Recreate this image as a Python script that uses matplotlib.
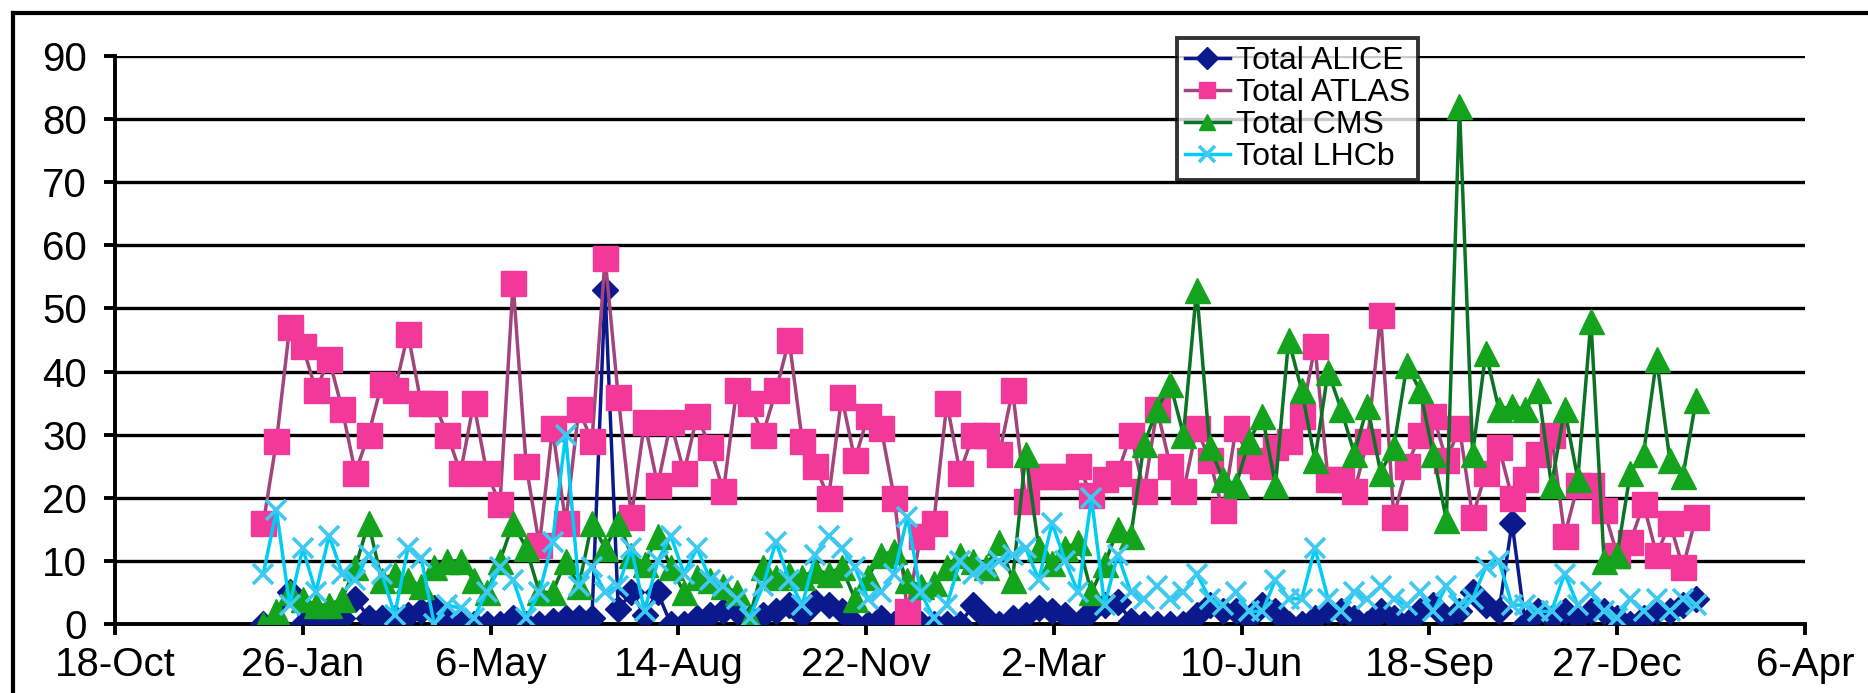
import datetime as dt

import matplotlib
matplotlib.use("Agg")
import matplotlib.pyplot as plt
from matplotlib.lines import Line2D

plt.rcParams['font.family'] = ['Liberation Sans', 'DejaVu Sans']

# weekly reports, first one on 5 Jan 2009
start = dt.date(2009, 1, 5)
n_weeks = 110
weeks = [start + dt.timedelta(days=7 * i) for i in range(n_weeks)]

alice = [0, 0, 5, 0, 0, 1, 1, 4, 1, 1, 1, 1.5, 2, 2.5, 1, 0, 0, 0, 0, 1,
         0, 0, 0.5, 1, 1, 1, 53, 2.3, 5, 1.5, 5, 0, 0, 1, 1.5, 2, 2, 1, 1.5, 2,
         3, 1.5, 3.5, 3, 2, 0, 0, 1, 0, 0, 0, 0, 0, 0, 3, 1, 0, 1, 1.5, 2.5,
         2, 1.5, 0, 2, 3, 3.5, 0.5, 0, 0, 0, 0, 1.5, 3, 2, 2, 1, 3, 2, 0, 0,
         1, 2, 2, 1, 0, 2, 1, 0, 2, 3, 1, 2, 5, 3, 2, 16, 0, 2, 1, 2,
         1, 2, 2, 1, 0, 1, 2, 2, 3, 4]
atlas = [16, 29, 47, 44, 37, 42, 34, 24, 30, 38, 37, 46, 35, 35, 30, 24, 35, 24, 19, 54,
         25, 12.5, 31, 16, 34, 29, 58, 36, 17, 32, 22, 32, 24, 33, 28, 21, 37, 35, 30, 37,
         45, 29, 25, 20, 36, 26, 33, 31, 20, 2, 14, 16, 35, 24, 30, 30, 27, 37, 19.5, 23.5,
         23.5, 23.5, 25, 20.5, 23, 24, 30, 21, 34, 25, 21, 31, 26, 18, 31, 26, 25, 28, 29, 33,
         44, 23, 23, 21, 29, 49, 17, 25, 30, 33, 26, 31, 17, 24, 28, 20, 23, 27, 30, 14,
         22, 22, 18, 11, 13, 19, 11, 16, 9, 17]
cms = [0, 2, 5, 4, 3, 3, 4, 9, 16, 7, 8, 7, 6, 9, 10, 10, 7, 5, 10, 16,
       12, 5, 5, 10, 6, 16, 12, 16, 11, 9.5, 14, 9, 5, 7.5, 7, 6, 5, 1, 9, 7.5,
       8, 7.5, 8.5, 8, 9, 4, 7.5, 11, 11.5, 7, 6, 6.5, 9, 11, 10, 9, 13, 7, 27, 12,
       9.7, 12, 13, 5, 9.5, 15, 14, 28.5, 34, 38, 30, 53, 28, 23, 22, 29, 33, 22, 45, 37,
       26, 40, 34, 27, 34.5, 24, 28, 41, 37, 27, 16.5, 82, 27, 43, 34, 34.5, 34, 37, 22, 34,
       23, 48, 10, 11, 24, 27, 42, 26, 23.5, 35.5]
lhcb = [8, 18, 3, 12, 5, 14, 8, 7, 11, 8, 1.5, 12, 10.5, 0, 3, 2.5, 1, 5, 9, 7,
        1, 5, 13, 30, 6, 9, 5, 6, 12, 2, 10, 14, 8, 12, 7, 6, 4, 1, 6, 13,
        7, 3, 11, 14, 12, 9, 4, 5, 8, 17, 5, 1, 3, 10, 8, 9, 10, 11, 12, 7,
        16, 10, 5, 20, 3, 11, 5, 4, 6, 4, 5, 8, 4, 3, 5, 2, 2, 7, 4, 4,
        12, 4, 2, 5, 4, 6, 4, 3, 5, 2, 6, 3, 4, 9, 10, 3, 3, 2, 2, 8,
        3, 5, 2, 1, 4, 2, 4, 2, 4, 3]

tick_dates = [dt.date(2008, 10, 18) + dt.timedelta(days=100 * k) for k in range(10)]
tick_labels = ['18-Oct', '26-Jan', '6-May', '14-Aug', '22-Nov',
               '2-Mar', '10-Jun', '18-Sep', '27-Dec', '6-Apr']
y_ticks = list(range(0, 91, 10))

W, H = 1868, 693
fig = plt.figure(figsize=(W / 100, H / 100), dpi=100)
ax = fig.add_axes([115 / W, 69 / H, (1805 - 115) / W, (624 - 56) / H])

ax.plot(weeks, alice, color='#0a1a8c', lw=2.5, marker='D', ms=13,
        mfc='#0a1a8c', mec='#0a1a8c', label='Total ALICE', zorder=3)
ax.plot(weeks, atlas, color='#a3447c', lw=2.5, marker='s', ms=18,
        mfc='#f2399a', mec='#f2399a', label='Total ATLAS', zorder=4)
ax.plot(weeks, cms, color='#0a7424', lw=2.5, marker='^', ms=18,
        mfc='#13a31c', mec='#13a31c', label='Total CMS', zorder=5)
ax.plot(weeks, lhcb, color='#00cdf5', lw=2.5, marker='x', ms=15, mew=2.6,
        mec='#3fc8f0', label='Total LHCb', zorder=6)

ax.set_xlim(tick_dates[0], tick_dates[-1])
ax.set_ylim(0, 90)
ax.set_xticks(tick_dates)
ax.set_xticklabels(tick_labels)
ax.set_yticks(y_ticks)
ax.grid(axis='y', color='black', lw=2.4)
ax.set_axisbelow(True)
for side in ('top', 'right'):
    ax.spines[side].set_visible(False)
ax.spines['left'].set_linewidth(2.8)
ax.spines['bottom'].set_linewidth(2.8)
ax.tick_params(axis='both', labelsize=29, width=2.8, length=8, direction='out')
ax.tick_params(axis='y', pad=12)
ax.tick_params(axis='x', pad=8)

leg = ax.legend(loc='upper left', bbox_to_anchor=(1177 / W, 1 - 38 / H),
                bbox_transform=fig.transFigure, fontsize=23, frameon=True,
                fancybox=False, borderpad=0.25, labelspacing=0.06,
                handlelength=1.4, handletextpad=0.2, borderaxespad=0)
leg.get_frame().set_edgecolor('black')
leg.get_frame().set_linewidth(2.8)
for h in leg.legend_handles:
    h.set_markersize(11)

# outer chart border (cut at the right and bottom of the image)
fig.add_artist(Line2D([13 / W, 13 / W], [0, 1 - 13 / H], color='black', lw=3,
                      transform=fig.transFigure))
fig.add_artist(Line2D([13 / W, 1], [1 - 13 / H, 1 - 13 / H], color='black', lw=3,
                      transform=fig.transFigure))

fig.savefig('out.png', dpi=100)
